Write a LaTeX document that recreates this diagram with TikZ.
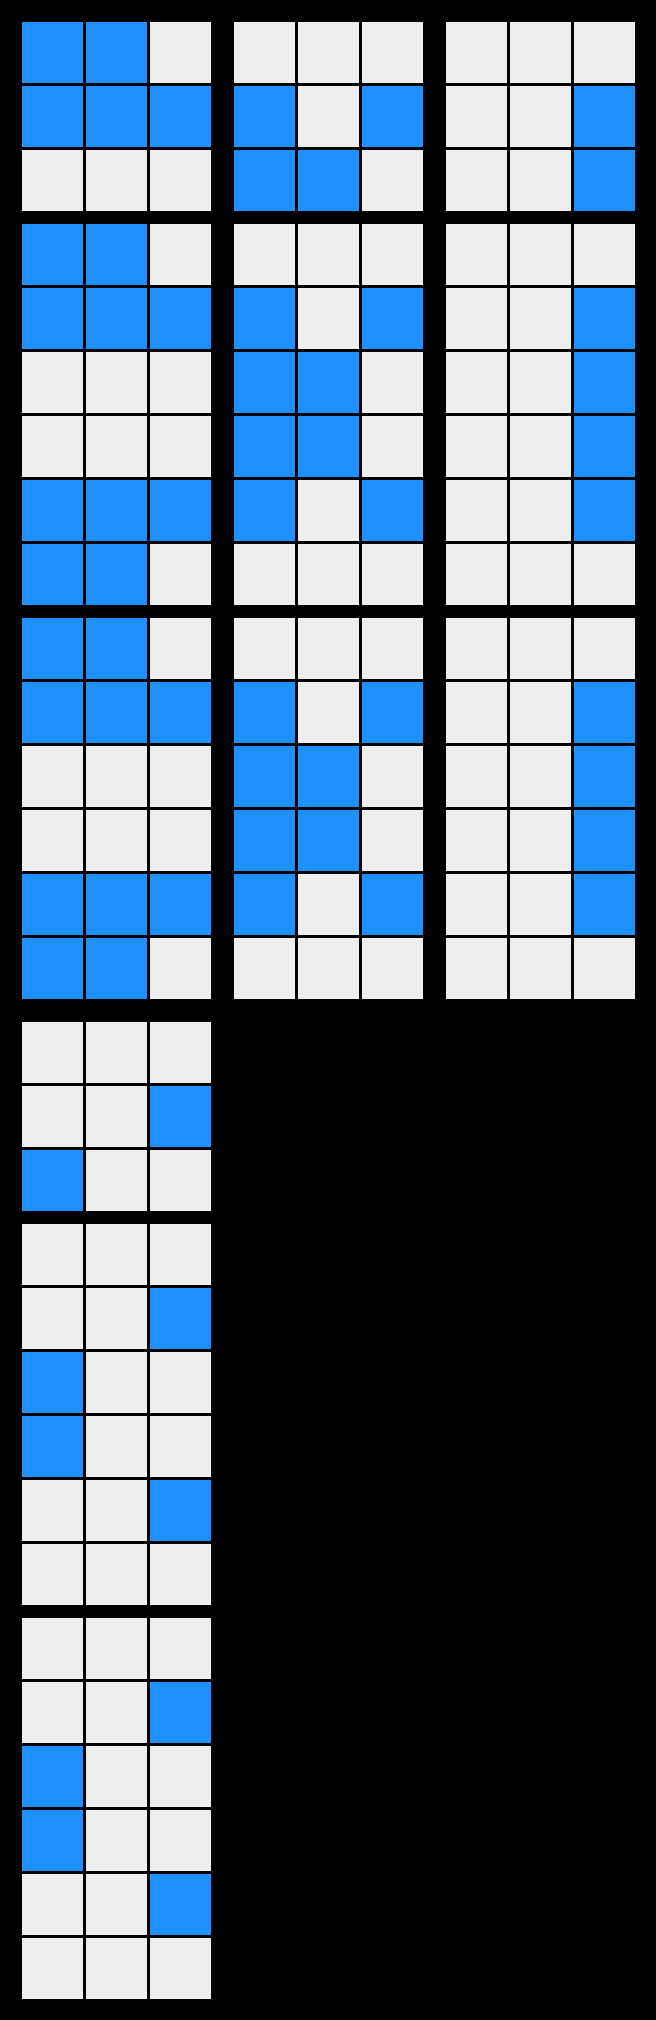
\documentclass[tikz,border=0pt]{standalone}
\definecolor{cellblue}{HTML}{1E90FF}
\definecolor{cellgrey}{HTML}{EEEEEE}
\tikzset{
  cellg/.style={fill=cellgrey, draw=black, line width=1.5pt},
  cellb/.style={fill=cellblue, draw=black, line width=1.5pt},
}
\newcommand\gridbox[4]{%
  \foreach \r in {1,...,#3}{
    \foreach \c in {1,2,3}{
      \filldraw[cellg] ({#1+(\c-1)*64},{#2+(\r-1)*64}) rectangle ++(64,64);
    }
  }
  \foreach \c/\r in {#4}{
    \filldraw[cellb] ({#1+(\c-1)*64},{#2+(\r-1)*64}) rectangle ++(64,64);
  }
}
\begin{document}
\begin{tikzpicture}[x=0.5pt,y=-0.5pt]
  \fill[black] (0,0) rectangle (656,2020);
  \useasboundingbox (0,0) rectangle (656,2020);
  % block row 1 (3 rows)
  \gridbox{20.5}{20.5}{3}{1/1,2/1,1/2,2/2,3/2}
  \gridbox{232.5}{20.5}{3}{1/2,3/2,1/3,2/3}
  \gridbox{444.5}{20.5}{3}{3/2,3/3}
  % block row 2 (6 rows)
  \gridbox{20.5}{222.5}{6}{1/1,2/1,1/2,2/2,3/2,1/5,2/5,3/5,1/6,2/6}
  \gridbox{232.5}{222.5}{6}{1/2,3/2,1/3,2/3,1/4,2/4,1/5,3/5}
  \gridbox{444.5}{222.5}{6}{3/2,3/3,3/4,3/5}
  % block row 3 (6 rows)
  \gridbox{20.5}{616.5}{6}{1/1,2/1,1/2,2/2,3/2,1/5,2/5,3/5,1/6,2/6}
  \gridbox{232.5}{616.5}{6}{1/2,3/2,1/3,2/3,1/4,2/4,1/5,3/5}
  \gridbox{444.5}{616.5}{6}{3/2,3/3,3/4,3/5}
  % lower section
  \gridbox{20.5}{1020.5}{3}{3/2,1/3}
  \gridbox{20.5}{1222.5}{6}{3/2,1/3,1/4,3/5}
  \gridbox{20.5}{1616.5}{6}{3/2,1/3,1/4,3/5}
\end{tikzpicture}
\end{document}
